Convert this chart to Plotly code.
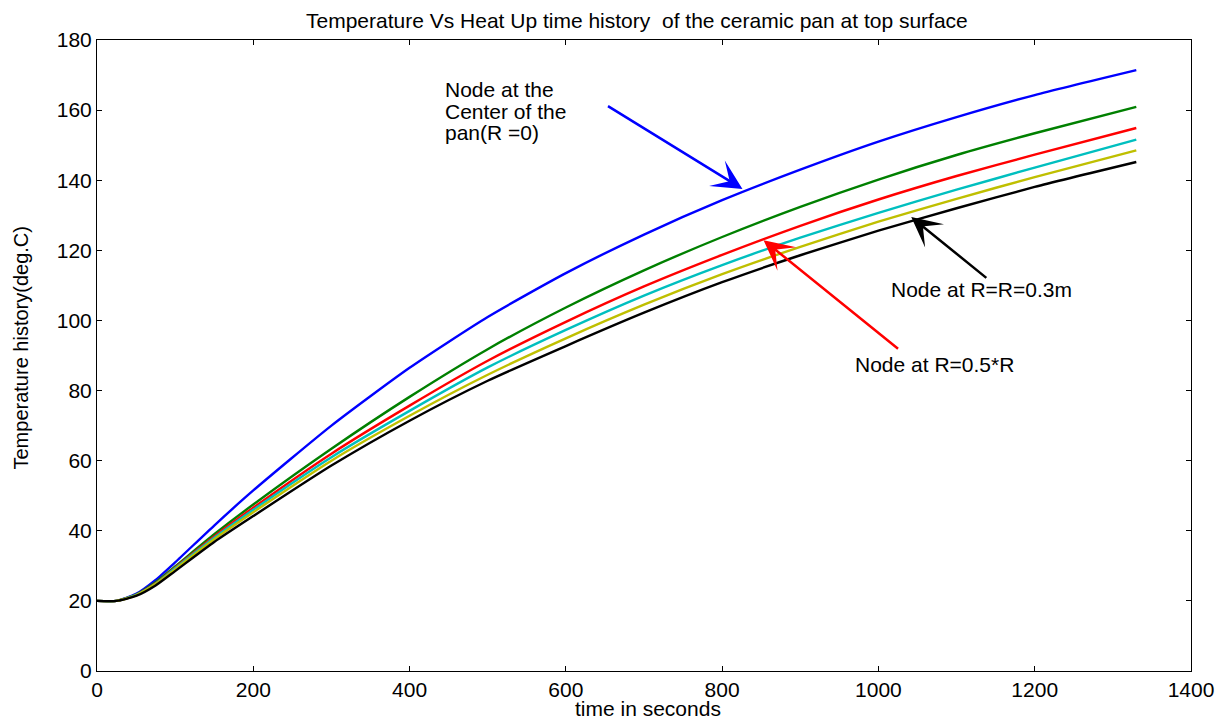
import plotly.graph_objects as go

time_s = [0, 25, 50, 75, 100, 150, 200, 300, 400, 500, 600, 700, 800, 900, 1000, 1100, 1200, 1330]

temp_center = [20, 20, 22.0, 26.0, 31.0, 41.5, 51.5, 70.0, 86.5, 101.0, 113.5, 124.5, 134.3, 143.0, 151.0, 158.0, 164.3, 171.4]
temp_green = [20, 20, 21.8, 25.3, 29.8, 39.0, 47.5, 63.4, 78.2, 91.8, 103.7, 114.3, 123.8, 132.4, 140.2, 147.2, 153.4, 160.9]
temp_half_r = [20, 20, 21.7, 25.0, 29.5, 38.4, 46.6, 62.0, 75.7, 88.5, 99.6, 109.7, 118.7, 127.0, 134.5, 141.2, 147.3, 154.9]
temp_cyan = [20, 20, 21.7, 24.9, 29.3, 38.0, 46.0, 61.0, 74.2, 86.6, 97.3, 107.1, 115.8, 123.6, 130.7, 137.3, 143.6, 151.6]
temp_yellow = [20, 20, 21.6, 24.8, 29.0, 37.6, 45.3, 60.0, 72.8, 84.5, 94.9, 104.5, 113.2, 121.0, 128.2, 134.7, 140.9, 148.5]
temp_edge = [20, 20, 21.4, 24.4, 28.5, 36.8, 44.2, 58.6, 71.4, 82.8, 92.7, 102.2, 110.9, 118.6, 125.6, 132.0, 138.1, 145.2]

series = [
    (temp_center, "#0000FF"),
    (temp_green, "#008000"),
    (temp_half_r, "#FF0000"),
    (temp_cyan, "#00BFBF"),
    (temp_yellow, "#BFBF00"),
    (temp_edge, "#000000"),
]

x_ticks = [0, 200, 400, 600, 800, 1000, 1200, 1400]
y_ticks = [0, 20, 40, 60, 80, 100, 120, 140, 160, 180]

center_label_lines = ["Node at the", "Center of the", "pan(R =0)"]
center_label_y = [166.0, 159.7, 153.5]

FONT = "Arial, Liberation Sans, sans-serif"

fig = go.Figure()
for vals, col in series:
    fig.add_trace(go.Scatter(x=time_s, y=vals, mode="lines",
                             line=dict(color=col, width=2.4, shape="spline", smoothing=0.6),
                             showlegend=False))

axis_common = dict(showline=True, linecolor="black", linewidth=1, mirror="allticks",
                   ticks="inside", ticklen=5, tickcolor="black", showgrid=False,
                   zeroline=False, tickfont=dict(family=FONT, size=21, color="black"))

fig.update_xaxes(range=[0, 1400], tickvals=x_ticks, **axis_common)
fig.update_yaxes(range=[0, 180], tickvals=y_ticks, **axis_common)

ann = []
# title
ann.append(dict(text="Temperature Vs Heat Up time history  of the ceramic pan at top surface",
                xref="paper", yref="paper", x=0.4936, y=1, yanchor="middle", yshift=20,
                showarrow=False, font=dict(family=FONT, size=21, color="black")))
ann.append(dict(text="time in seconds", xref="paper", yref="paper", x=0.5037, y=0,
                yanchor="middle", yshift=-37, showarrow=False,
                font=dict(family=FONT, size=21, color="black")))
ann.append(dict(text="Temperature history(deg.C)", xref="paper", yref="paper", x=0, y=0.5,
                xanchor="center", yanchor="middle", xshift=-77, yshift=7, textangle=-90,
                showarrow=False, font=dict(family=FONT, size=20, color="black")))

# arrows
arrows = [
    (826, 137.5, 652, 161.4, "#0000FF"),
    (853, 122.9, 1027, 91.6, "#FF0000"),
    (1042, 129.5, 1140, 111.8, "#000000"),
]
for x, y, axv, ayv, col in arrows:
    ann.append(dict(text="", x=x, y=y, ax=axv, ay=ayv, xref="x", yref="y", axref="x", ayref="y",
                    showarrow=True, arrowhead=3, arrowsize=2.0, arrowwidth=2.5, arrowcolor=col,
                    standoff=0, startstandoff=0))

for line_txt, ly in zip(center_label_lines, center_label_y):
    ann.append(dict(text=line_txt, x=443, y=ly, xref="x", yref="y",
                    xanchor="left", yanchor="middle", align="left", showarrow=False,
                    font=dict(family=FONT, size=21, color="black")))
ann.append(dict(text="Node at R=R=0.3m", x=1013, y=108.7, xref="x", yref="y",
                xanchor="left", yanchor="middle", showarrow=False,
                font=dict(family=FONT, size=21, color="black")))
ann.append(dict(text="Node at R=0.5*R", x=967, y=87.3, xref="x", yref="y",
                xanchor="left", yanchor="middle", showarrow=False,
                font=dict(family=FONT, size=21, color="black")))

fig.update_layout(width=1226, height=719, margin=dict(l=97, r=35, t=40, b=48, pad=0),
                  plot_bgcolor="white", paper_bgcolor="white", annotations=ann,
                  font=dict(family=FONT, color="black"))

# remove the default page margin so the figure sits at the window's top-left corner
fig.write_html("out.html", config={"displayModeBar": False},
               post_script="document.body.style.margin='0';document.body.style.overflow='hidden';")
